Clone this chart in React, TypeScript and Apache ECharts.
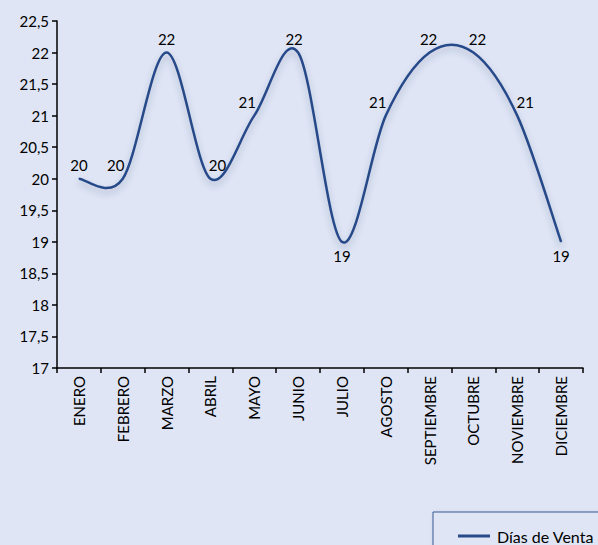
import React, { useEffect, useRef } from "react";
import * as echarts from "echarts";

const categories = ["ENERO", "FEBRERO", "MARZO", "ABRIL", "MAYO", "JUNIO", "JULIO", "AGOSTO", "SEPTIEMBRE", "OCTUBRE", "NOVIEMBRE", "DICIEMBRE"];
const diasDeVenta = [20, 20, 22, 20, 21, 22, 19, 21, 22, 22, 21, 19];
const labelPositions = ["top", "top", "top", "top", "top", "top", "bottom", "top", "top", "top", "top", "bottom"];
const labelOffsets = [[0, 0], [-7, 0], [0, 0], [7, 0], [-7, 0], [-4, 0], [0, 0], [-8, 0], [-1, 0], [4, 0], [8, 0], [0, 0]];
const seriesName = "Días de Venta";

const FONT = "Lato, 'Open Sans', sans-serif";
const LINE_COLOR = "#284a8a";

export default function App() {
  const ref = useRef<HTMLDivElement>(null);
  useEffect(() => {
    document.body.style.margin = "0";
    const chart = echarts.init(ref.current!, null, { renderer: "svg" });
    chart.setOption({
      animation: false,
      backgroundColor: "#dfe5f4",
      textStyle: { fontFamily: FONT },
      grid: { left: 57, top: 21, right: 15, bottom: 177 },
      xAxis: {
        type: "category",
        data: categories,
        boundaryGap: true,
        axisLine: { lineStyle: { color: "#000", width: 1.5 } },
        axisTick: { show: true, length: 5, lineStyle: { color: "#000", width: 1.5 } },
        axisLabel: { rotate: 90, color: "#000", fontSize: 15, fontFamily: FONT, margin: 8, interval: 0 },
      },
      yAxis: {
        type: "value",
        min: 17,
        max: 22.5,
        interval: 0.5,
        splitLine: { show: false },
        axisLine: { show: true, lineStyle: { color: "#000", width: 1.5 } },
        axisTick: { show: true, length: 5, lineStyle: { color: "#000", width: 1.5 } },
        axisLabel: {
          color: "#000",
          fontSize: 15,
          fontFamily: FONT,
          margin: 8,
          formatter: (v: number) => String(v).replace(".", ","),
        },
      },
      legend: {
        left: 433,
        top: 512,
        orient: "vertical",
        padding: [16, 40, 20, 25],
        itemWidth: 32,
        itemHeight: 3,
        itemGap: 5,
        icon: "rect",
        borderColor: "#3b5a94",
        borderWidth: 1,
        backgroundColor: "#dfe5f4",
        shadowBlur: 4,
        shadowColor: "rgba(0,0,0,0.25)",
        shadowOffsetX: 2,
        shadowOffsetY: 2,
        textStyle: { color: "#000", fontSize: 16, fontFamily: FONT, padding: [0, 0, 0, 2] },
        data: [seriesName],
      },
      series: [
        {
          name: seriesName,
          type: "custom",
          coordinateSystem: "cartesian2d",
          itemStyle: { color: LINE_COLOR },
          encode: { x: 0, y: 1 },
          data: diasDeVenta.map((v, i) => [i, v]),
          renderItem: (params: any, api: any) => {
            if (params.dataIndex !== 0) return null;
            const pts = diasDeVenta.map((v, i) => api.coord([i, v]));
            const n = pts.length;
            let d = `M${pts[0][0]},${pts[0][1]}`;
            for (let i = 0; i < n - 1; i++) {
              const p0 = pts[Math.max(i - 1, 0)];
              const p1 = pts[i];
              const p2 = pts[i + 1];
              const p3 = pts[Math.min(i + 2, n - 1)];
              const c1x = p1[0] + (p2[0] - p0[0]) / 6;
              const c1y = p1[1] + (p2[1] - p0[1]) / 6;
              const c2x = p2[0] - (p3[0] - p1[0]) / 6;
              const c2y = p2[1] - (p3[1] - p1[1]) / 6;
              d += ` C${c1x},${c1y} ${c2x},${c2y} ${p2[0]},${p2[1]}`;
            }
            return {
              type: "path",
              shape: { pathData: d },
              style: {
                fill: "none",
                stroke: LINE_COLOR,
                lineWidth: 2.5,
                shadowBlur: 6,
                shadowColor: "rgba(40,60,110,0.3)",
                shadowOffsetY: 4,
              },
            };
          },
        },
        {
          name: "etiquetas",
          type: "line",
          symbol: "circle",
          symbolSize: 1,
          itemStyle: { color: LINE_COLOR },
          lineStyle: { width: 0, opacity: 0 },
          data: diasDeVenta.map((v, i) => ({
            value: v,
            label: {
              show: true,
              position: labelPositions[i],
              offset: labelOffsets[i],
              distance: 6,
              color: "#000",
              fontSize: 15,
              fontFamily: FONT,
            },
          })),
        },
      ],
    });
    return () => chart.dispose();
  }, []);
  return <div ref={ref} style={{ position: "absolute", left: 0, top: 0, width: 598, height: 545 }} />;
}
